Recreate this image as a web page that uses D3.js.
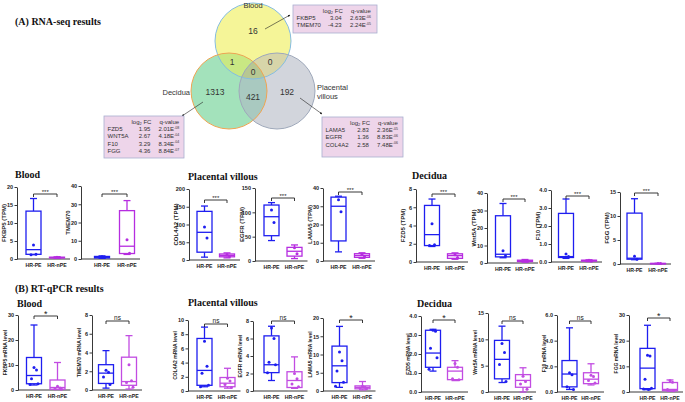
<!DOCTYPE html>
<html>
<head>
<meta charset="utf-8">
<style>
body { margin: 0; background: #fff; }
text { font-family: "Liberation Sans", Arial, sans-serif; }
.serif { font-family: "Liberation Serif", "Times New Roman", serif; font-weight: bold; }
</style>
</head>
<body>
<svg width="685" height="402"></svg>
<script src="https://d3js.org/d3.v7.min.js"></script>
<script>

// ---------- data ----------
var groups = ["HR-PE", "HR-nPE"];

var vennSets = ["Blood", "Decidua", "Placental villous"];
// only B, only D, only P, B&D, B&P, D&P, all three
var vennCounts = [16, 1313, 192, 1, 0, 421, 0];

var bloodTable = [["FKBP5", "3.04", "2.63E", "-06"], ["TMEM70", "-4.23", "2.24E", "-05"]];
var decTable = [["FZD5", "1.95", "2.01E", "-08"], ["WNT5A", "2.67", "4.18E", "-04"],
                ["F10", "3.29", "8.34E", "-04"], ["FGG", "4.36", "8.84E", "-07"]];
var pvTable = [["LAMA5", "2.83", "2.36E", "-05"], ["EGFR", "1.36", "8.83E", "-06"],
               ["COL4A2", "2.58", "7.48E", "-06"]];

// RNA-seq (TPM): [low whisker, q1, median, q3, high whisker]
var rnaLabels = ["FKBP5 (TPM)", "TMEM70", "COL4A2 (TPM)", "EGFR (TPM)", "LAMA5 (TPM)",
                 "FZD5 (TPM)", "Wnt5A (TPM)", "F10 (TPM)", "FGG (TPM)"];
var rnaMax = [20, 40, 200, 150, 40, 8, 40, 4, 15];
var rnaStep = [5, 10, 50, 50, 10, 2, 10, 1, 5];
var rnaPE = [[1.2, 1.3, 2.6, 13.3, 16.8], [0.4, 0.6, 1.0, 1.4, 1.7], [8, 22, 78, 137, 152],
             [42, 52, 91, 115, 120], [5, 11, 30, 35, 35.5], [1.7, 1.8, 3.0, 6.2, 6.9],
             [3, 3.5, 5, 27, 34], [0.2, 0.25, 0.3, 2.7, 3.5], [0.9, 1.0, 1.2, 10.6, 13.6]];
var rnaNPE = [[0.2, 0.3, 0.4, 0.5, 0.6], [2.5, 3, 7, 26.5, 32], [6, 9, 13, 17, 20],
              [5, 10, 20, 28, 33], [1.5, 2, 3, 4, 4.5], [0.3, 0.4, 0.7, 0.9, 1.0],
              [0.5, 0.8, 1.2, 1.6, 2], [0.02, 0.05, 0.08, 0.1, 0.12], [0.05, 0.08, 0.1, 0.12, 0.15]];
var rnaPEpts = [[3.9, 1.3, 1.2], [1.2, 0.8], [93, 62], [105, 79], [33.5, 27],
                [4.2, 1.9, 1.8], [7, 4], [0.45, 0.3], [1.6, 1.0]];
var rnaNPEpts = [[0.5, 0.4], [10.5, 3.2], [15, 10], [27, 15], [3.5, 2.5],
                 [0.8, 0.5], [1.5, 1], [0.1, 0.06], [0.12, 0.08]];
var rnaSig = ["***", "***", "***", "***", "***", "***", "***", "***", "***"];

// RT-qPCR (mRNA level)
var qLabels = ["FKBP5 mRNA level", "TMEM70 mRNA level", "COL4A2 mRNA level", "EGFR mRNA level",
               "LAMA5 mRNA level", "FZD5 mRNA level", "Wnt5A mRNA level", "F10 mRNA level", "FGG mRNA level"];
var qMax = [30, 8, 10, 8, 20, 4, 15, 6, 30];
var qStep = [10, 2, 2, 2, 5, 1, 5, 2, 10];
var qPE = [[2, 2.5, 5.8, 13, 26], [0.2, 0.7, 1.8, 2.7, 4.2], [0.6, 0.8, 2.9, 7.4, 9],
           [1.2, 2.1, 3.0, 6.3, 7.4], [1.0, 2.3, 6.9, 12.3, 17.7], [1.1, 1.3, 2.05, 3.25, 3.3],
           [1.8, 2.5, 6.2, 9.8, 12.5], [0.2, 0.4, 1.4, 2.45, 5.0], [0.9, 1.3, 9.3, 17, 26]];
var qNPE = [[0.2, 0.3, 1.0, 4.0, 11], [0.1, 0.5, 0.9, 3.5, 5.8], [0.4, 0.6, 1.1, 1.9, 3.2],
            [0.3, 0.4, 1.2, 2.2, 3.9], [0.3, 0.6, 1.0, 1.4, 2.6], [0.6, 0.65, 1.1, 1.3, 1.65],
            [0, 0.9, 2.2, 3.3, 4.6], [0.55, 0.65, 1.0, 1.5, 2.2], [0.3, 0.5, 1.0, 3.7, 4.7]];
var qPEpts = [[9, 8, 4.5, 2.5, 2.2], [2.1, 1.9, 1.4, 0.6], [7.0, 3.5, 2.5, 0.8, 0.6],
              [7.2, 6.0, 3.3, 3.0, 2.1], [10.7, 8.3, 5.5, 2.4, 1.3], [3.25, 3.2, 2.3, 1.8, 1.2],
              [9.2, 7.5, 5.2, 2.0], [1.5, 1.35, 0.4, 0.2], [14.3, 14.0, 5.0, 1.5, 1.2, 1.0]];
var qNPEpts = [[1.5, 0.8, 0.5, 0.3], [2.7, 1.0, 0.8, 0.3], [1.8, 1.4, 0.9, 0.5], [2.0, 1.4, 0.8, 0.5],
               [1.3, 1.0, 0.8, 0.6], [1.5, 1.3, 0.7, 0.65], [3.0, 2.0, 1.5, 0.5], [1.3, 1.2, 0.9, 0.7],
               [4.5, 3.8, 1.0, 0.5]];
var qSig = ["*", "ns", "ns", "ns", "*", "*", "ns", "ns", "*"];

// ---------- layout ----------
var rnaAxisX = [17, 81, 189, 255, 323, 416, 487, 551, 620];
var rnaTop = [187, 186, 189, 188, 188, 189, 193, 190, 192];
var rnaBot = [259, 259, 260, 261, 261, 262, 263, 262, 264];
var rnaCx = [[33.5, 57], [102, 127], [204.5, 227], [271.5, 294.5], [338.5, 362],
             [432, 455], [503, 525], [566, 589], [634.5, 658]];
var rnaBr = [194, 194, 200, 198, 192, 194, 199, 196, 193];

var qAxisX = [18, 92, 188, 253, 323, 421, 488, 557, 629];
var qTop = [315, 315, 320, 321, 318, 316, 313, 315, 315];
var qBot = [390, 390, 391, 391, 391, 392, 392, 392, 392];
var qCx = [[34, 57.5], [106, 129], [204.5, 227.5], [271.5, 294.5], [339.5, 362.5],
           [433, 455], [502, 523], [569.5, 591], [647.5, 670]];
var qBr = [316, 321, 324, 321, 320, 320, 321, 321, 318];

var blue = "#1e1ef0", mag = "#b62de0", mag2 = "#c24ce2";
var jit = [0, 2.5, -2.5, 4, -4, 1];

var svg = d3.select("svg");

// ---------- titles ----------
function title(x, y, t, s) {
  svg.append("text").attr("class", "serif").attr("x", x).attr("y", y)
    .attr("font-size", s).attr("fill", "#111").text(t);
}
title(15, 25, "(A) RNA-seq results", 10);
title(15, 292, "(B) RT-qPCR results", 10);
title(15, 178, "Blood", 10);
title(188, 180, "Placental villous", 10);
title(412, 179, "Decidua", 10);
title(17, 307, "Blood", 10);
title(188, 306, "Placental villous", 10);
title(417, 307, "Decidua", 10);

// ---------- venn ----------
var r = 38;
var cen = [[253, 41], [229, 91], [277, 91]];
var base = ["#f5f598", "#a3e2bb", "#d2d5dc"];
var edge = ["#86bde0", "#f0a452", "#9ea8ba"];
var defs = svg.append("defs");
cen.forEach(function(c, i) {
  defs.append("clipPath").attr("id", "cl" + i).append("circle")
    .attr("cx", c[0]).attr("cy", c[1]).attr("r", r);
});
var vg = svg.append("g");
cen.forEach(function(c, i) {
  vg.append("circle").attr("cx", c[0]).attr("cy", c[1]).attr("r", r).attr("fill", base[i]);
});
function inter(a, b, col) {
  vg.append("g").attr("clip-path", "url(#cl" + b + ")").append("circle")
    .attr("cx", cen[a][0]).attr("cy", cen[a][1]).attr("r", r).attr("fill", col);
}
inter(0, 1, "#c9e883");
inter(0, 2, "#d7d5a9");
inter(1, 2, "#a9c9c0");
vg.append("g").attr("clip-path", "url(#cl2)").append("g").attr("clip-path", "url(#cl1)")
  .append("circle").attr("cx", cen[0][0]).attr("cy", cen[0][1]).attr("r", r).attr("fill", "#b7c792");
cen.forEach(function(c, i) {
  vg.append("circle").attr("cx", c[0]).attr("cy", c[1]).attr("r", r)
    .attr("fill", "none").attr("stroke", edge[i]).attr("stroke-width", 1);
});
var numPos = [[253, 34], [215, 95], [287, 95], [232, 65], [270, 65], [253, 100], [253, 75]];
vennCounts.forEach(function(v, i) {
  vg.append("text").attr("x", numPos[i][0]).attr("y", numPos[i][1]).attr("text-anchor", "middle")
    .attr("font-size", 8.5).attr("fill", "#333").text(v);
});
vg.append("text").attr("x", 253).attr("y", 8).attr("text-anchor", "middle")
  .attr("font-size", 7.5).attr("fill", "#333").text(vennSets[0]);
vg.append("text").attr("x", 190).attr("y", 95).attr("text-anchor", "end")
  .attr("font-size", 7.5).attr("fill", "#333").text(vennSets[1]);
vg.append("text").attr("x", 317).attr("y", 90).attr("font-size", 7.5).attr("fill", "#333")
  .text(vennSets[2].split(" ")[0]);
vg.append("text").attr("x", 317).attr("y", 99).attr("font-size", 7.5).attr("fill", "#333")
  .text(vennSets[2].split(" ")[1]);

// arrows
defs.append("marker").attr("id", "ah").attr("viewBox", "0 0 10 10").attr("refX", 9).attr("refY", 5)
  .attr("markerWidth", 4).attr("markerHeight", 4).attr("orient", "auto")
  .append("path").attr("d", "M0,0L10,5L0,10z").attr("fill", "#222");
[[265, 29, 290, 15], [203, 102, 182, 116], [300, 98, 322, 114]].forEach(function(a) {
  svg.append("line").attr("x1", a[0]).attr("y1", a[1]).attr("x2", a[2]).attr("y2", a[3])
    .attr("stroke", "#222").attr("stroke-width", 0.6).attr("marker-end", "url(#ah)");
});

// tables
function table(x, y, w, h, rows) {
  var t = svg.append("g").attr("transform", "translate(" + x + "," + y + ")");
  t.append("rect").attr("width", w).attr("height", h).attr("fill", "#eed5ea")
    .attr("stroke", "#a9aed0").attr("stroke-width", 0.8);
  var fcEnd = w * 0.58, qx = w * 0.68;
  var hd = t.append("text").attr("x", fcEnd + 1).attr("y", 7.5).attr("text-anchor", "end")
    .attr("font-size", 6).attr("fill", "#333");
  hd.append("tspan").text("log");
  hd.append("tspan").attr("font-size", 4).attr("dy", 1.5).text("2");
  hd.append("tspan").attr("dy", -1.5).text(" FC");
  t.append("text").attr("x", qx + 1).attr("y", 7.5).attr("font-size", 6).attr("fill", "#333").text("q-value");
  rows.forEach(function(d, i) {
    var yy = 15 + i * 7.4;
    t.append("text").attr("x", 3.5).attr("y", yy).attr("font-size", 6).attr("fill", "#333").text(d[0]);
    t.append("text").attr("x", fcEnd).attr("y", yy).attr("text-anchor", "end")
      .attr("font-size", 6).attr("fill", "#333").text(d[1]);
    var q = t.append("text").attr("x", qx).attr("y", yy).attr("font-size", 6).attr("fill", "#333");
    q.append("tspan").text(d[2]);
    q.append("tspan").attr("font-size", 3.5).attr("dy", -2.5).text(d[3]);
  });
}
table(293, 5, 84, 28, bloodTable);
table(104, 116, 80, 42, decTable);
table(322, 117, 81, 40, pvTable);

// ---------- box plots ----------
function panel(o) {
  var g = svg.append("g");
  var y = d3.scaleLinear().domain([0, o.max]).range([o.bot, o.top]);
  var x = d3.scaleOrdinal().domain(groups).range(o.cx);
  var axis = g.append("g").attr("transform", "translate(" + o.ax + ",0)")
    .call(d3.axisLeft(y).tickValues(d3.range(0, o.max + o.step / 2, o.step))
      .tickSize(2.5).tickPadding(1.5).tickSizeOuter(0));
  axis.selectAll("text").attr("font-size", 5.5).attr("font-weight", "bold")
    .attr("font-family", "Liberation Sans, Arial, sans-serif").attr("fill", "#222");
  axis.selectAll("path,line").attr("stroke", "#222").attr("stroke-width", 0.9);
  g.append("line").attr("x1", o.ax).attr("x2", o.cx[1] + 13).attr("y1", o.bot).attr("y2", o.bot)
    .attr("stroke", "#222").attr("stroke-width", 0.9);
  g.append("text").attr("transform", "translate(" + (o.ax - 11) + "," + ((o.top + o.bot) / 2) + ")rotate(-90)")
    .attr("text-anchor", "middle").attr("font-size", o.lfs).attr("font-weight", "bold")
    .attr("fill", "#222").text(o.label);
  groups.forEach(function(gr, k) {
    g.append("text").attr("x", x(gr)).attr("y", o.bot + 8).attr("text-anchor", "middle")
      .attr("font-size", 5.2).attr("font-weight", "bold").attr("fill", "#222").text(gr);
    var s = o.stats[k], col = o.cols[k], cx = x(gr), bw = 15;
    var bx = g.append("g").attr("stroke", col).attr("stroke-width", 1.3).attr("fill", "none");
    bx.append("line").attr("x1", cx).attr("x2", cx).attr("y1", y(s[0])).attr("y2", y(s[1]));
    bx.append("line").attr("x1", cx).attr("x2", cx).attr("y1", y(s[3])).attr("y2", y(s[4]));
    bx.append("line").attr("x1", cx - 3.5).attr("x2", cx + 3.5).attr("y1", y(s[0])).attr("y2", y(s[0]));
    bx.append("line").attr("x1", cx - 3.5).attr("x2", cx + 3.5).attr("y1", y(s[4])).attr("y2", y(s[4]));
    bx.append("rect").attr("x", cx - bw / 2).attr("width", bw).attr("y", y(s[3]))
      .attr("height", Math.max(0.5, y(s[1]) - y(s[3]))).attr("fill", "#fff");
    bx.append("line").attr("x1", cx - bw / 2).attr("x2", cx + bw / 2).attr("y1", y(s[2])).attr("y2", y(s[2]));
    g.selectAll(null).data(o.pts[k]).enter().append("circle")
      .attr("cx", function(d, i) { return cx + jit[i % jit.length]; })
      .attr("cy", function(d) { return y(d); }).attr("r", 1.5).attr("fill", col);
  });
  var b = o.br;
  g.append("path").attr("d", "M" + o.cx[0] + "," + (b + 3) + "V" + b + "H" + o.cx[1] + "V" + (b + 3))
    .attr("fill", "none").attr("stroke", "#222").attr("stroke-width", 0.9);
  g.append("text").attr("x", (o.cx[0] + o.cx[1]) / 2).attr("y", o.sig === "ns" ? b - 1.5 : (o.sig === "*" ? b + 1 : b - 0.5))
    .attr("text-anchor", "middle").attr("font-size", o.sig === "*" ? 9 : (o.sig === "ns" ? 6.5 : 6))
    .attr("fill", "#222").text(o.sig);
}

rnaLabels.forEach(function(l, i) {
  panel({ ax: rnaAxisX[i], top: rnaTop[i], bot: rnaBot[i], max: rnaMax[i], step: rnaStep[i],
    label: l, lfs: 6, cx: rnaCx[i], br: rnaBr[i], stats: [rnaPE[i], rnaNPE[i]],
    pts: [rnaPEpts[i], rnaNPEpts[i]], cols: [blue, mag], sig: rnaSig[i] });
});
qLabels.forEach(function(l, i) {
  panel({ ax: qAxisX[i], top: qTop[i], bot: qBot[i], max: qMax[i], step: qStep[i],
    label: l, lfs: 5, cx: qCx[i], br: qBr[i], stats: [qPE[i], qNPE[i]],
    pts: [qPEpts[i], qNPEpts[i]], cols: [blue, mag2], sig: qSig[i] });
});

</script>
</body>
</html>
